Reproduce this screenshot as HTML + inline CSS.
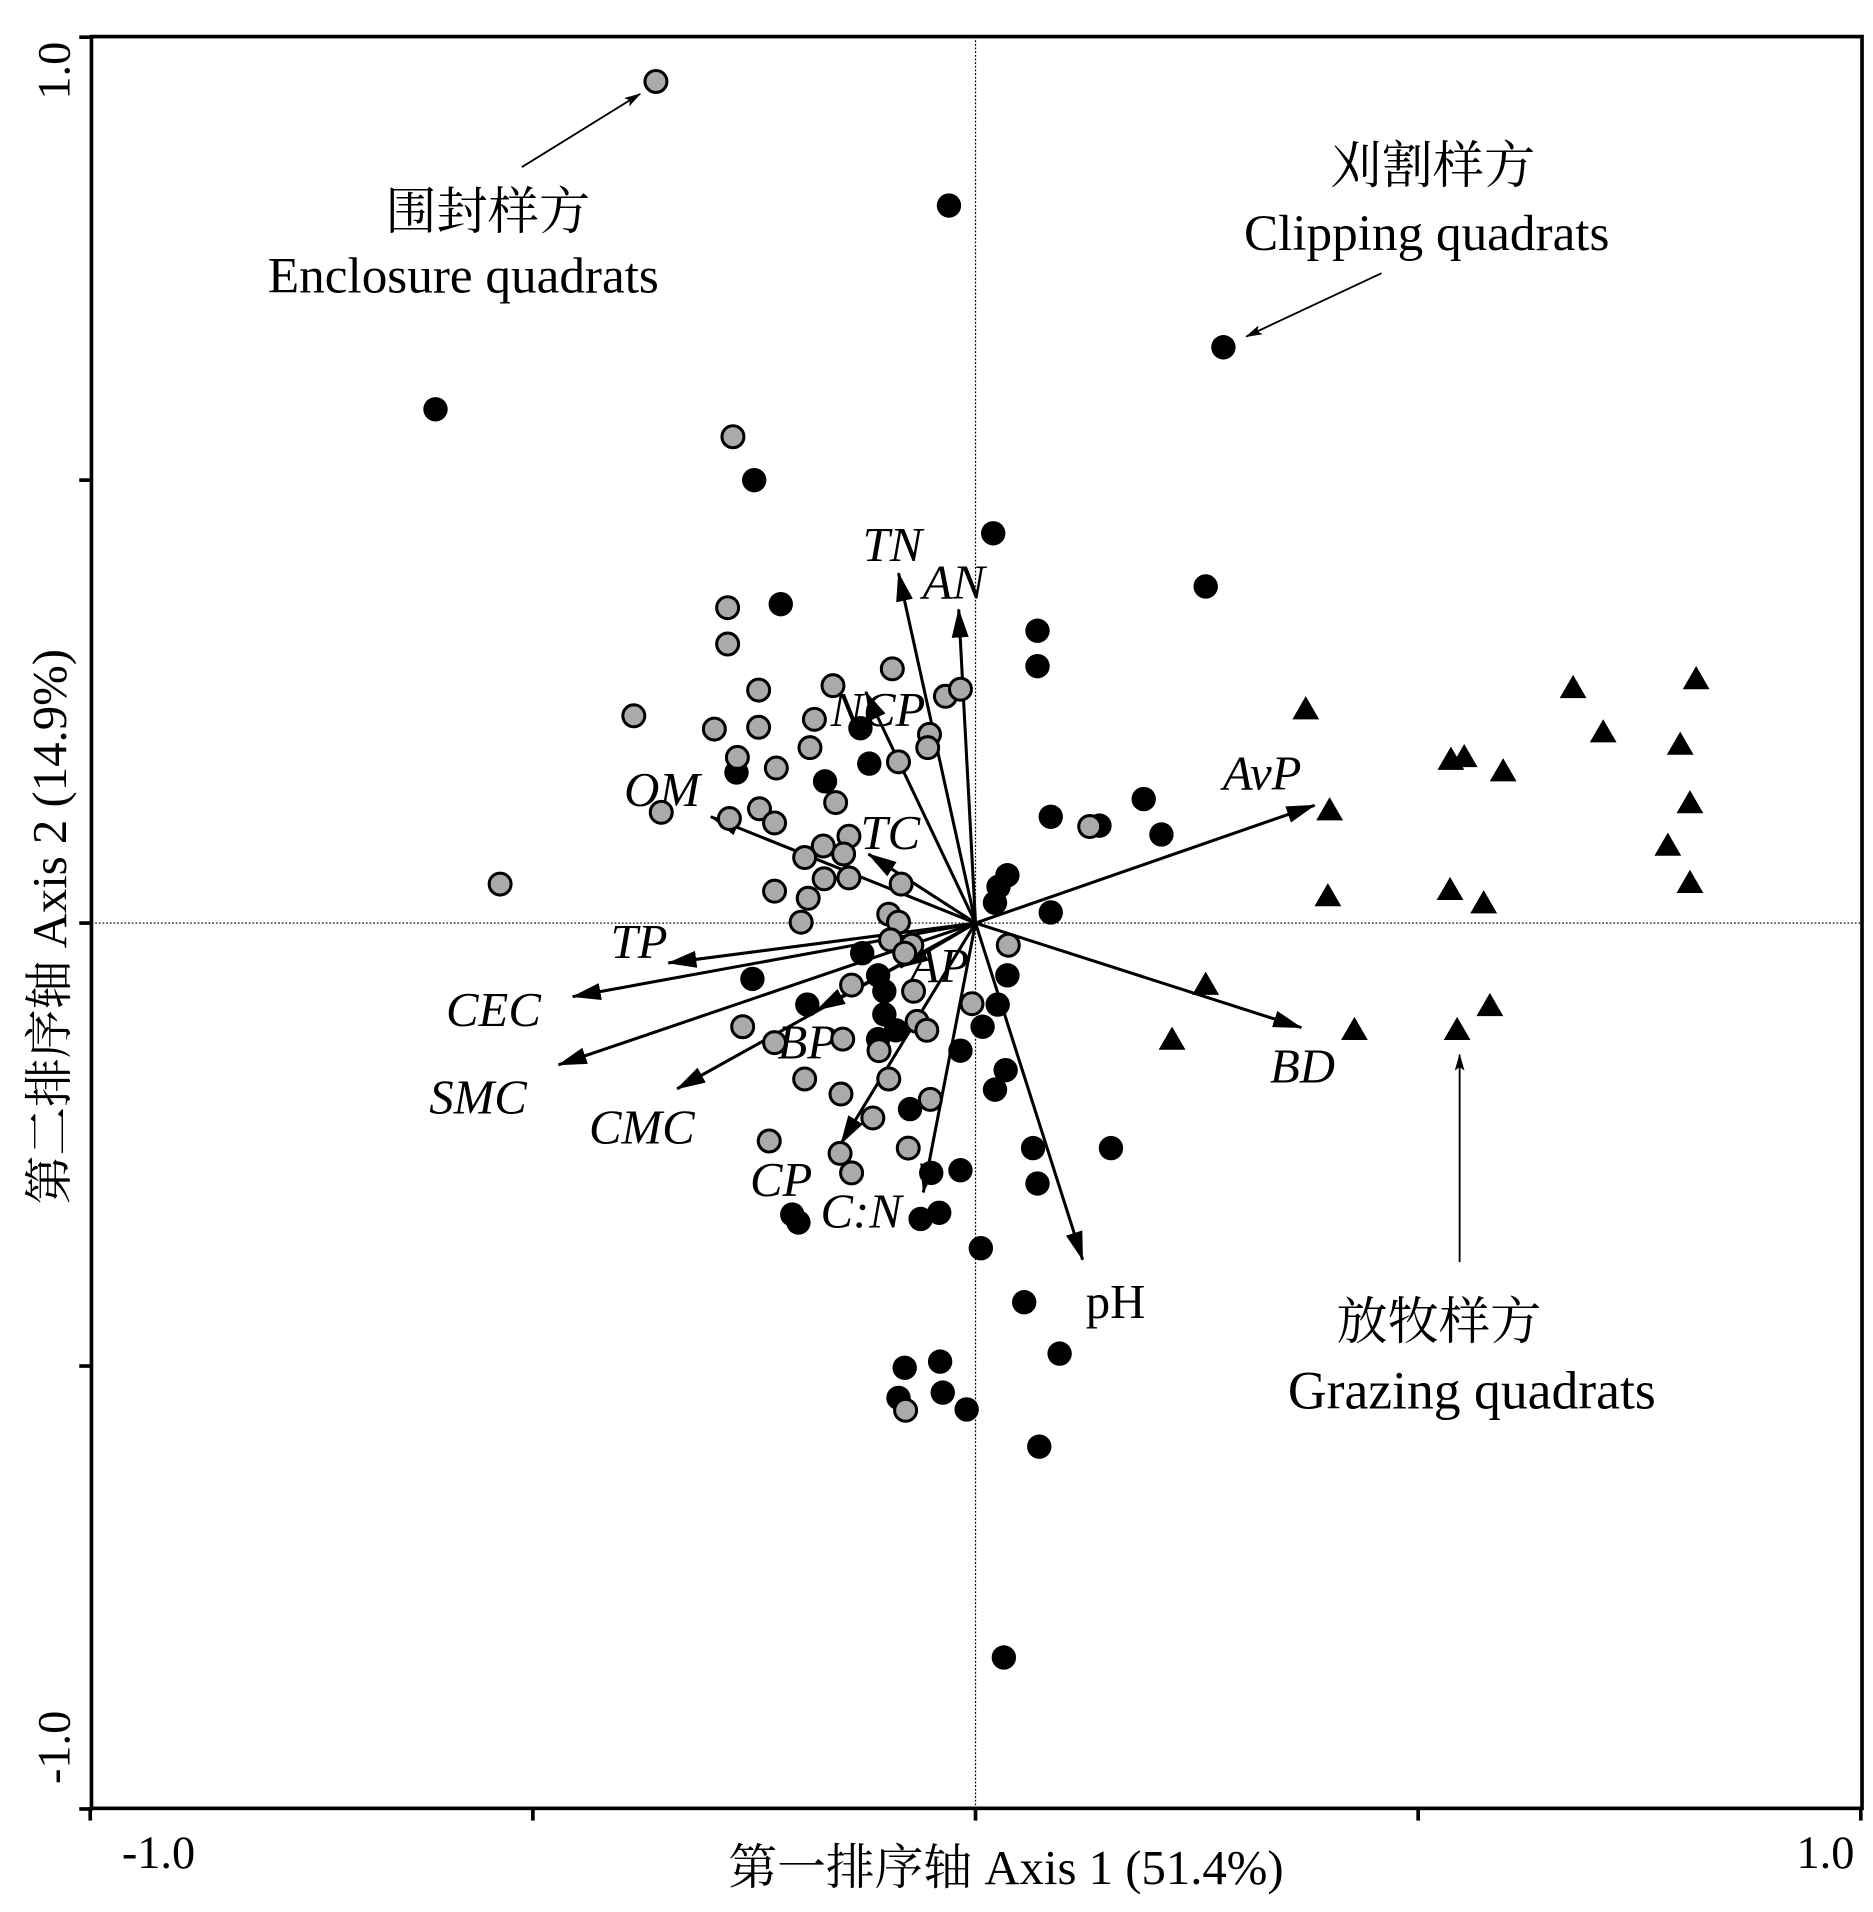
<!DOCTYPE html>
<html><head><meta charset="utf-8"><style>
html,body{margin:0;padding:0;background:#fff}
svg{display:block}
text{font-family:"Liberation Serif","Noto Serif CJK SC",serif;fill:#000}
</style></head><body>
<svg id="chart" width="1873" height="1912" viewBox="0 0 1536 1568" preserveAspectRatio="none" xmlns="http://www.w3.org/2000/svg">
<defs><marker id="ah" markerWidth="10" markerHeight="8" refX="9" refY="4" orient="auto" markerUnits="userSpaceOnUse" viewBox="0 0 10 8"><path d="M0,0 L10,4 L0,8 z" fill="#000"/></marker>
<marker id="ah2" viewBox="0 0 24 14" refX="23" refY="7" markerWidth="24" markerHeight="14" orient="auto" markerUnits="userSpaceOnUse"><path d="M0,0 L24,7 L0,14 z" fill="#000"/></marker>
<marker id="ah3" viewBox="0 0 14 8" refX="13" refY="4" markerWidth="14" markerHeight="8" orient="auto" markerUnits="userSpaceOnUse"><path d="M0,0 L14,4 L0,8 L3,4 z" fill="#000"/></marker></defs>
<g id="frame"></g>
<g id="arrows"></g>
<g id="pts"></g>
<g id="ann"></g>
</svg>
<script>
const blackX=[-0.03,0.28,-0.61,-0.25,0.02,0.26,-0.22,0.07,0.07,-0.13,-0.12,-0.27,-0.17,0.085,0.14,0.19,0.21,0.036,0.026,0.022,0.085,-0.128,-0.252,0.036,-0.103,0.025,-0.19,-0.103,-0.11,0.008,-0.017,0.034,0.022,-0.074,0.065,0.153,-0.05,-0.017,0.07,-0.207,-0.2,-0.062,-0.041,0.006,0.055,0.095,-0.08,-0.04,-0.087,-0.037,-0.01,0.072,0.032,-0.09,-0.11];
const blackY=[0.81,0.65,0.58,0.50,0.44,0.38,0.36,0.33,0.29,0.22,0.18,0.17,0.16,0.12,0.11,0.14,0.10,0.054,0.041,0.023,0.012,-0.034,-0.063,-0.059,-0.077,-0.092,-0.092,-0.103,-0.131,-0.117,-0.144,-0.166,-0.188,-0.21,-0.254,-0.254,-0.282,-0.279,-0.294,-0.329,-0.338,-0.334,-0.327,-0.367,-0.428,-0.486,-0.502,-0.495,-0.536,-0.53,-0.549,-0.591,-0.829,-0.121,-0.059];
const grayX=[-0.361,-0.274,-0.28,-0.28,-0.245,-0.386,-0.295,-0.245,-0.161,-0.094,-0.182,-0.269,-0.187,-0.225,-0.052,-0.054,-0.087,-0.034,-0.017,-0.158,-0.355,-0.278,-0.244,-0.227,-0.143,-0.172,-0.193,-0.149,-0.171,-0.143,-0.084,-0.227,-0.189,-0.197,-0.098,-0.087,-0.096,-0.072,-0.08,-0.14,-0.07,-0.004,-0.066,-0.055,-0.263,-0.227,-0.15,-0.109,-0.098,-0.193,-0.152,-0.051,-0.116,-0.233,-0.076,-0.153,-0.14,-0.079,0.129,-0.537,0.037];
const grayY=[0.95,0.549,0.356,0.315,0.263,0.234,0.219,0.221,0.268,0.287,0.23,0.187,0.198,0.175,0.213,0.198,0.182,0.256,0.264,0.136,0.125,0.118,0.129,0.113,0.098,0.087,0.074,0.078,0.05,0.051,0.044,0.036,0.028,0.001,0.01,0.001,-0.019,-0.025,-0.034,-0.07,-0.077,-0.091,-0.111,-0.121,-0.117,-0.135,-0.131,-0.144,-0.176,-0.176,-0.193,-0.199,-0.22,-0.246,-0.254,-0.26,-0.282,-0.55,0.109,0.044,-0.025];
const triX=[0.373,0.4,0.398,0.675,0.814,0.709,0.796,0.807,0.782,0.807,0.537,0.552,0.596,0.536,0.574,0.26,0.222,0.428,0.544,0.581];
const triY=[0.241,0.127,0.03,0.265,0.275,0.215,0.201,0.135,0.087,0.045,0.184,0.187,0.171,0.037,0.022,-0.07,-0.132,-0.121,-0.121,-0.094];
const vecNames=["TN","AN","NCP","OM","TC","AvP","TP","AP","CEC","BP","SMC","CMC","CP","C:N","pH","BD"];
const vecX=[-0.087,-0.019,-0.124,-0.299,-0.121,0.383,-0.347,-0.085,-0.455,-0.179,-0.471,-0.337,-0.152,-0.059,0.121,0.368];
const vecY=[0.395,0.354,0.261,0.12,0.078,0.133,-0.045,-0.05,-0.083,-0.098,-0.16,-0.187,-0.249,-0.304,-0.38,-0.118];
const labDX=[-5,-4,10,-40,18,-43,-24,32,-65,-8,-66,-29,-49,-51,27,1];
const labDY=[-10,-9,28,-9,-4,-13,-4,12,24,40,40,45,43,29,48,45];
const xTicks=[-1,-0.5,0,0.5,1], yTicks=[-1,-0.5,0,0.5,1];
const X0=75,X1=1527,Y0=30,Y1=1483;
const sx=v=>800+v*(X1-X0)/2, sy=v=>757-v*(Y1-Y0)/2;
const NS="http://www.w3.org/2000/svg";
function mk(tag,parent,attrs){const e=document.createElementNS(NS,tag);for(const k in attrs)e.setAttribute(k,attrs[k]);parent.appendChild(e);return e;}
const frame=document.getElementById('frame');
let e=mk('rect',frame,{x:X0,y:Y0,width:X1-X0,height:Y1-Y0,fill:'none',stroke:'#000','stroke-width':3});

e=mk('line',frame,{x1:X0,x2:X1,y1:sy(0),y2:sy(0),stroke:'#000','stroke-width':1,'stroke-dasharray':'1.5,1.5'});

e=mk('line',frame,{x1:sx(0),x2:sx(0),y1:Y0,y2:Y1,stroke:'#000','stroke-width':1,'stroke-dasharray':'1.5,1.5'});

xTicks.forEach(t=>{const l=mk('line',frame,{x1:sx(t),x2:sx(t),y1:Y1-1,y2:Y1+10,stroke:'#000','stroke-width':3});
});
yTicks.forEach(t=>{const l=mk('line',frame,{x1:X0-10,x2:X0+1,y1:sy(t),y2:sy(t),stroke:'#000','stroke-width':3});
});
function txt(parent,x,y,s,attrs,name){const t=mk('text',parent,Object.assign({x:x,y:y},attrs));t.textContent=s;return t;}
txt(frame,130,1532,'-1.0',{'font-size':38,'text-anchor':'middle'},'x-tick-label-min');
txt(frame,1497,1532,'1.0',{'font-size':38,'text-anchor':'middle'},'x-tick-label-max');
txt(frame,0,0,'1.0',{'font-size':38,'text-anchor':'middle',transform:'translate(57,58) rotate(-90)'},'y-tick-label-max');
txt(frame,0,0,'-1.0',{'font-size':38,'text-anchor':'middle',transform:'translate(57,1433) rotate(-90)'},'y-tick-label-min');
txt(frame,825,1545,'第一排序轴 Axis 1 (51.4%)',{'font-size':40,'text-anchor':'middle'},'x-axis-title');
txt(frame,0,0,'第二排序轴 Axis 2 (14.9%)',{'font-size':40,'text-anchor':'middle',transform:'translate(54,760) rotate(-90)'},'y-axis-title');
const arr=document.getElementById('arrows');
vecNames.forEach((n,i)=>{const x=sx(vecX[i]),y=sy(vecY[i]);
const l=mk('line',arr,{x1:sx(0),y1:sy(0),x2:x,y2:y,stroke:'#000','stroke-width':2.5,'marker-end':'url(#ah2)'});

const t=txt(arr,x+labDX[i],y+labDY[i],n,{'font-size':40,'text-anchor':'middle','font-style':n==='pH'?'normal':'italic'},'vector-label-'+n.replace(':','').toLowerCase());});
const pts=document.getElementById('pts');
blackX.forEach((v,i)=>{const c=mk('circle',pts,{cx:sx(v),cy:sy(blackY[i]),r:10,fill:'#000'});
});
grayX.forEach((v,i)=>{const c=mk('circle',pts,{cx:sx(v),cy:sy(grayY[i]),r:9,fill:'#aaa',stroke:'#000','stroke-width':2.5});
});
triX.forEach((v,i)=>{const x=sx(v),y=sy(triY[i]);const p=mk('polygon',pts,{points:`${x},${y-11} ${x+11},${y+8} ${x-11},${y+8}`,fill:'#000'});
});
const ann=document.getElementById('ann');
[[428,137,525,77],[1133,224,1022,276],[1197,1035,1197,865]].forEach((a,i)=>{const l=mk('line',ann,{x1:a[0],y1:a[1],x2:a[2],y2:a[3],stroke:'#000','stroke-width':1.5,'marker-end':'url(#ah3)'});
});
txt(ann,400,188,'围封样方',{'font-size':42,'text-anchor':'middle'},'enclosure-label-cn');
txt(ann,380,240,'Enclosure quadrats',{'font-size':42,'text-anchor':'middle'},'enclosure-label-en');
txt(ann,1175,150,'刈割样方',{'font-size':42,'text-anchor':'middle'},'clipping-label-cn');
txt(ann,1170,205,'Clipping quadrats',{'font-size':42,'text-anchor':'middle'},'clipping-label-en');
txt(ann,1180,1098,'放牧样方',{'font-size':42,'text-anchor':'middle'},'grazing-label-cn');
txt(ann,1207,1155,'Grazing quadrats',{'font-size':44,'text-anchor':'middle','font-family':'Liberation Sans, sans-serif'},'grazing-label-en');
</script>
</body></html>
